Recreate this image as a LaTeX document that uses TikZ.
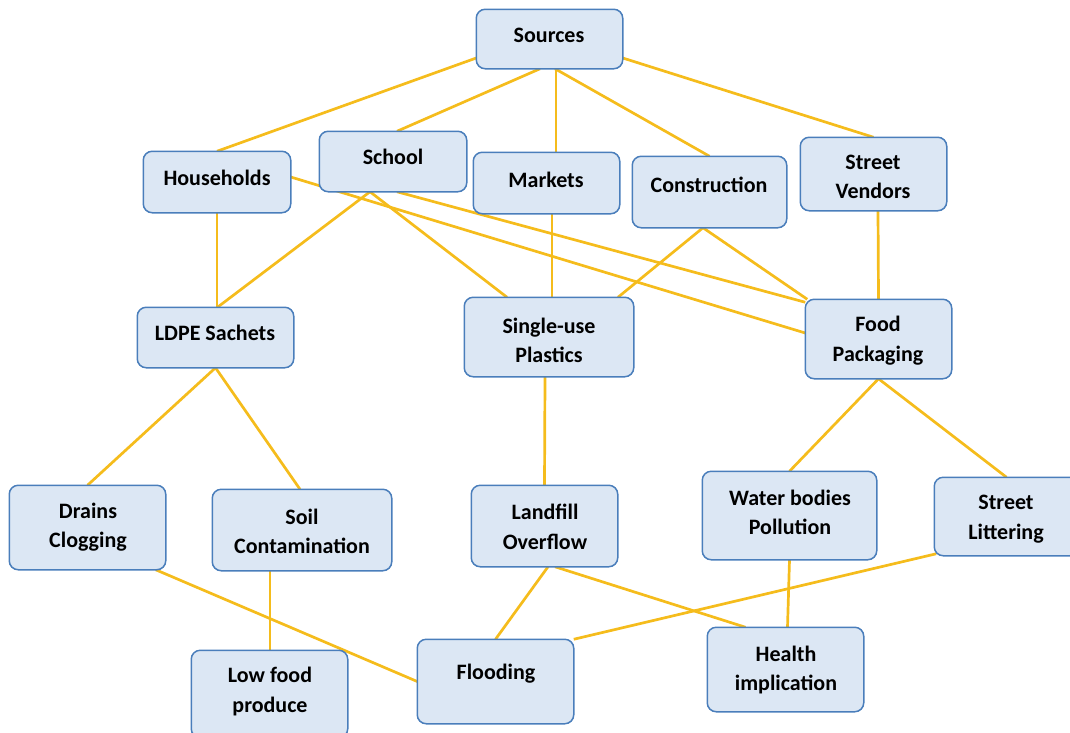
\documentclass[tikz,border=0pt]{standalone}
\usepackage{fontspec}
\setmainfont{Carlito}
\definecolor{boxfill}{RGB}{220,231,244}
\definecolor{boxline}{RGB}{74,126,187}
\definecolor{conn}{RGB}{245,188,28}
\tikzset{
  box/.style={draw=boxline, fill=boxfill, line width=1.5pt, rounded corners=9pt, inner sep=0pt},
  txt/.style={font=\fontsize{22}{29.5}\selectfont\bfseries, align=center, inner sep=0pt, text=black},
  link/.style={draw=conn, line width=2.7pt}
}
\begin{document}
\begin{tikzpicture}[x=1pt,y=-1pt]
\useasboundingbox (0,0) rectangle (1070,732);
% box positions
\path
  node[box, minimum width=145pt, minimum height=58pt] (src) at (549.5,39) {}
  node[box, minimum width=146pt, minimum height=60pt] (hh) at (217,182) {}
  node[box, minimum width=146pt, minimum height=59pt] (sch) at (393,161.5) {}
  node[box, minimum width=145pt, minimum height=60pt] (mkt) at (546.5,183) {}
  node[box, minimum width=153pt, minimum height=70pt] (con) at (709.5,192) {}
  node[box, minimum width=145pt, minimum height=72pt] (sv) at (873.5,174) {}
  node[box, minimum width=155pt, minimum height=59pt] (ldpe) at (215.5,337.5) {}
  node[box, minimum width=168pt, minimum height=78pt] (sup) at (549,337) {}
  node[box, minimum width=145pt, minimum height=78pt] (fp) at (878.5,339) {}
  node[box, minimum width=155pt, minimum height=83pt] (dc) at (87.5,527.5) {}
  node[box, minimum width=178pt, minimum height=80pt] (soil) at (302,530) {}
  node[box, minimum width=145pt, minimum height=80pt] (lf) at (544.5,526) {}
  node[box, minimum width=173pt, minimum height=87pt] (wb) at (789.5,515.5) {}
  node[box, minimum width=143pt, minimum height=77pt] (sl) at (1006.5,516.5) {}
  node[box, minimum width=155pt, minimum height=86pt] (lfp) at (269.5,694) {}
  node[box, minimum width=155pt, minimum height=83pt] (fl) at (495.5,681.5) {}
  node[box, minimum width=155pt, minimum height=83pt] (hi) at (785.5,669.5) {};
% connectors
\draw[link] ([yshift=-19pt]src.west) -- (hh.north);
\draw[link] ([xshift=-9.5pt]src.south) -- ([xshift=4pt]sch.north);
\draw[link] ([xshift=6.5pt]src.south) -- ([xshift=9.5pt]mkt.north);
\draw[link] ([xshift=5.5pt]src.south) -- (con.north);
\draw[link] ([yshift=-19pt]src.east) -- (sv.north);
\draw[link] (hh.south) -- ([xshift=1.5pt]ldpe.north);
\draw[link] ([xshift=-23pt]sch.south) -- ([xshift=2pt]ldpe.north);
\draw[link] ([xshift=-23pt]sch.south) -- ([xshift=-42pt]sup.north);
\draw[link] ([yshift=5pt]hh.east) -- ([yshift=6pt]fp.west);
\draw[link] ([xshift=4pt]sch.south) -- ([yshift=-3pt]fp.north west);
\draw[link] ([xshift=5.5pt]mkt.south) -- ([xshift=3pt]sup.north);
\draw[link] ([xshift=-6.5pt]con.south) -- ([xshift=69pt]sup.north);
\draw[link] ([xshift=-6.5pt]con.south) -- ([xshift=2pt]fp.north west);
\draw[link] ([xshift=4.5pt]sv.south) -- (fp.north);
\draw[link] (ldpe.south) -- (dc.north);
\draw[link] (ldpe.south) -- ([xshift=-2pt]soil.north);
\draw[link] ([xshift=-4pt]sup.south) -- (lf.north);
\draw[link] (fp.south) -- (wb.north);
\draw[link] (fp.south) -- (sl.north);
\draw[link] ([xshift=-10pt]dc.south east) -- (fl.west);
\draw[link] ([xshift=-32pt]soil.south) -- ([xshift=0.5pt]lfp.north);
\draw[link] ([xshift=3.5pt]lf.south) -- (fl.north);
\draw[link] ([xshift=10.5pt]lf.south) -- ([xshift=-40pt]hi.north);
\draw[link] (wb.south) -- ([xshift=2pt]hi.north);
\draw[link] ([xshift=2pt,yshift=2pt]sl.south west) -- (fl.north east);
% redraw boxes on top of the connectors
\foreach \n in {src,hh,sch,mkt,con,sv,ldpe,sup,fp,dc,soil,lf,wb,sl,lfp,fl,hi}{
  \draw[draw=boxline, fill=boxfill, line width=1.5pt, rounded corners=9pt]
    (\n.south west) rectangle (\n.north east);
}
% texts
\node[txt] (tsrc) at (549,35) {Sources};
\node[txt] (thh) at (217,178) {Households};
\node[txt] (tsch) at (393,157) {School};
\node[txt] (tmkt) at (546,180) {Markets};
\node[txt] (tcon) at (709,185) {Construction};
\begin{scope}
\clip (sv.north west) rectangle ([yshift=10pt]sv.south east);
\node[txt] (tsv) at (873,177) {Street\\Vendors};
\end{scope}
\node[txt] (tldpe) at (215,333) {LDPE Sachets};
\node[txt] (tsup) at (549,340.5) {Single-use\\Plastics};
\node[txt] (tfp) at (878,340.5) {Food\\Packaging};
\node[txt] (tdc) at (88,527) {Drains\\Clogging};
\node[txt] (tsoil) at (302,531.5) {Soil\\Contamination};
\node[txt] (tlf) at (545,527) {Landfill\\Overflow};
\node[txt] (twb) at (790,512.5) {Water bodies\\Pollution};
\node[txt] (tsl) at (1006,519) {Street\\Littering};
\node[txt] (tlfp) at (270,691.5) {Low food\\produce};
\node[txt] (tfl) at (496,674) {Flooding};
\node[txt] (thi) at (786,670) {Health\\implication};
\end{tikzpicture}
\end{document}
